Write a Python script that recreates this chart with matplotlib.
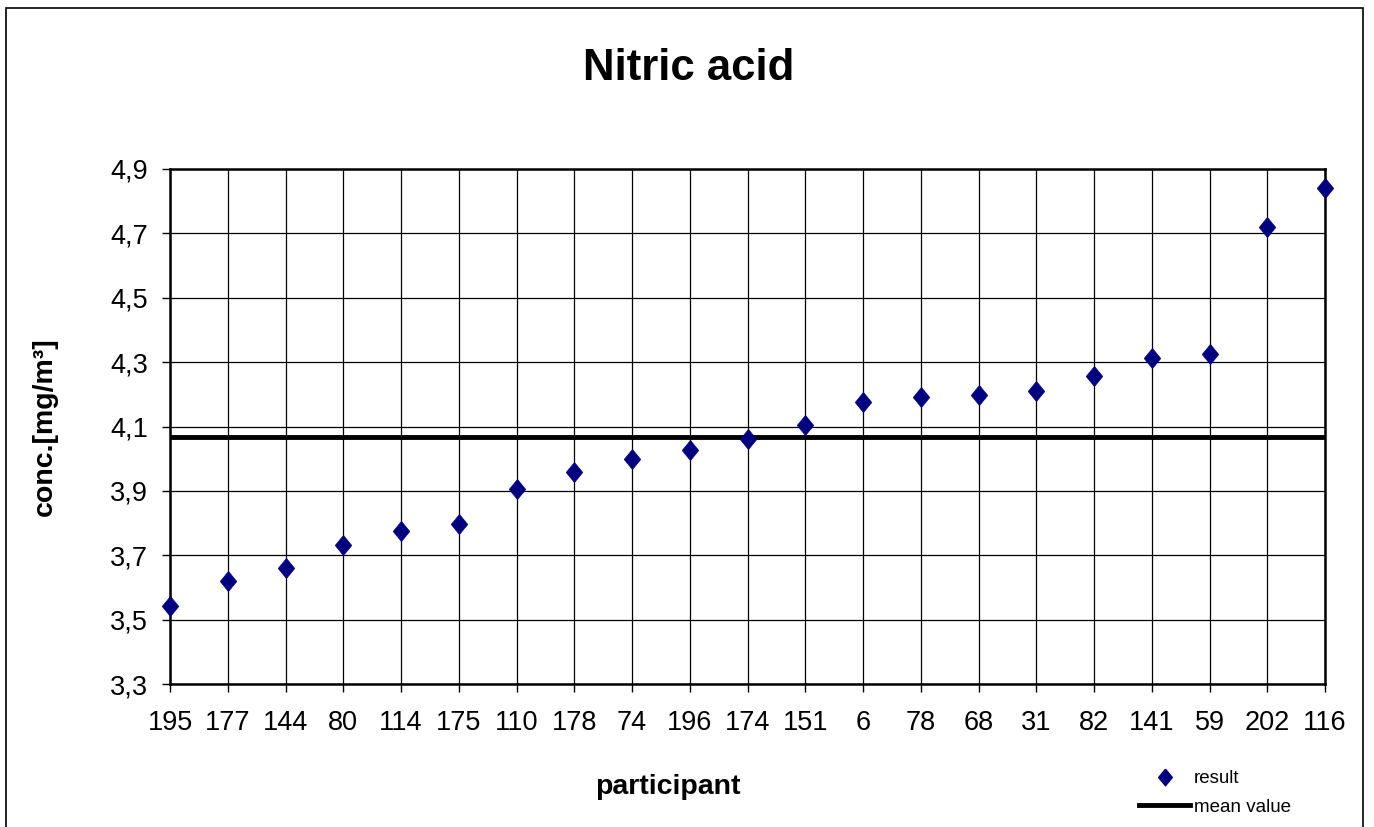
import matplotlib
matplotlib.use("Agg")
import matplotlib.pyplot as plt
from matplotlib.patches import Rectangle
from matplotlib.lines import Line2D

participants = ["195", "177", "144", "80", "114", "175", "110", "178", "74", "196", "174",
                "151", "6", "78", "68", "31", "82", "141", "59", "202", "116"]
results = [3.543, 3.619, 3.659, 3.731, 3.776, 3.798, 3.906, 3.960, 3.998, 4.028, 4.061,
           4.105, 4.177, 4.193, 4.199, 4.210, 4.258, 4.314, 4.326, 4.719, 4.842]
mean_value = 4.068
y_ticks = [3.3, 3.5, 3.7, 3.9, 4.1, 4.3, 4.5, 4.7, 4.9]
y_tick_labels = ["3,3", "3,5", "3,7", "3,9", "4,1", "4,3", "4,5", "4,7", "4,9"]

plt.rcParams['font.family'] = ['Liberation Sans', 'DejaVu Sans']

W, H = 1374, 827
fig = plt.figure(figsize=(W / 100, H / 100), dpi=100)
fig.patch.set_facecolor('white')

# outer chart border
fig.patches.append(Rectangle((6 / W, -0.02), (1363 - 6) / W, 1 - 8 / H + 0.02,
                             transform=fig.transFigure, fill=False,
                             edgecolor='black', linewidth=1.2))

ax = fig.add_axes([170 / W, 1 - 684 / H, (1325 - 170) / W, (684 - 169) / H])
x = list(range(len(participants)))

diamond = [(0, 1), (0.82, 0), (0, -1), (-0.82, 0), (0, 1)]

ax.set_xlim(0, len(participants) - 1)
ax.set_ylim(3.3, 4.9)
ax.set_xticks(x)
ax.set_xticklabels(participants, fontsize=19.5)
ax.set_yticks(y_ticks)
ax.set_yticklabels(y_tick_labels, fontsize=19.5)
ax.tick_params(axis='both', direction='out', length=6, width=1, color='black')
ax.tick_params(axis='x', pad=13)
ax.tick_params(axis='y', pad=10)
ax.grid(True, color='black', linewidth=0.9)
ax.set_axisbelow(True)
for s in ax.spines.values():
    s.set_linewidth(1.8)
    s.set_color('black')

ax.axhline(mean_value, color='black', linewidth=3.5, zorder=3)
ax.plot(x, results, linestyle='none', marker=diamond, markersize=14.5,
        color='#000080', markeredgecolor='#000080', markeredgewidth=0.5,
        zorder=4, clip_on=False)

fig.text(689 / W, 1 - 68 / H, "Nitric acid", fontsize=31.5, fontweight='bold',
         ha='center', va='center')
fig.text(45 / W, 1 - 427 / H, "conc.[mg/m³]", fontsize=20.5, fontweight='bold',
         rotation=90, ha='center', va='center')
fig.text(668 / W, 1 - 787 / H, "participant", fontsize=20.5, fontweight='bold',
         ha='center', va='center')

handles = [Line2D([], [], linestyle='none', marker=diamond, markersize=12, color='#000080'),
           Line2D([], [], color='black', linewidth=3.5)]
fig.legend(handles, ["result", "mean value"], loc='center left',
           bbox_to_anchor=(1130 / W, 1 - 793 / H), frameon=False, fontsize=13.5,
           handlelength=2.7, handletextpad=0.2, labelspacing=0.6, borderpad=0)

fig.savefig("out.png", dpi=100, facecolor='white')
